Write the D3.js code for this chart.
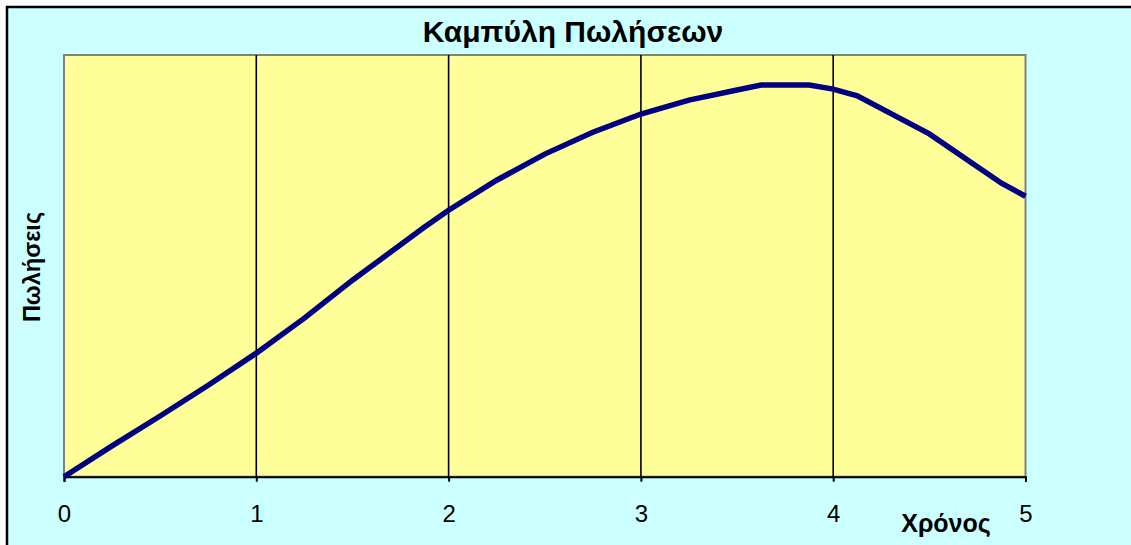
<!DOCTYPE html>
<html><head><meta charset="utf-8">
<script src="https://cdn.jsdelivr.net/npm/d3@7"></script>
<style>html,body{margin:0;padding:0;background:#fff;}svg{display:block;}</style>
</head><body>
<svg id="chart" width="1131" height="545"></svg>
<script>
const title = "Καμπύλη Πωλήσεων";
const xLabel = "Χρόνος";
const yLabel = "Πωλήσεις";
const xTicks = [0, 1, 2, 3, 4, 5];
const timeValues = [0, 0.25, 0.5, 0.75, 1, 1.25, 1.5, 1.875, 2, 2.25, 2.5, 2.75, 3, 3.25, 3.5, 3.625, 3.875, 4, 4.125, 4.5, 4.875, 5];
const salesValues = [0, 7.3, 14.4, 21.7, 29.3, 37.6, 46.6, 59.2, 63.2, 70.3, 76.5, 81.7, 86.0, 89.3, 91.7, 92.9, 92.9, 91.9, 90.3, 81.3, 69.6, 66.5];

const svg = d3.select("#chart");
const W = 1131, H = 545;
const plot = {left: 64, top: 55, right: 1025.5, bottom: 476.7};
const FONT = "Liberation Sans, Arial, sans-serif";

svg.append("rect").attr("x", 0).attr("y", 0).attr("width", W).attr("height", H).attr("fill", "#fff");
svg.append("rect").attr("x", 7).attr("y", 7).attr("width", W + 20).attr("height", H + 20)
  .attr("fill", "#CCFFFF").attr("stroke", "#000").attr("stroke-width", 2.5);

const x = d3.scaleLinear().domain([0, 5]).range([plot.left, plot.right]);
const y = d3.scaleLinear().domain([0, 100]).range([plot.bottom, plot.top]);

svg.append("rect").attr("x", plot.left).attr("y", plot.top)
  .attr("width", plot.right - plot.left).attr("height", plot.bottom - plot.top)
  .attr("fill", "#FFFF99").attr("stroke", "#808080").attr("stroke-width", 2);

// vertical gridlines
svg.append("g").selectAll("line").data(xTicks.filter(d => d > 0 && d < 5)).join("line")
  .attr("x1", d => x(d)).attr("x2", d => x(d))
  .attr("y1", plot.top).attr("y2", plot.bottom)
  .attr("stroke", "#000").attr("stroke-width", 1.6);

// x axis
const xAxis = d3.axisBottom(x).tickValues(xTicks).tickFormat(d3.format("d")).tickSize(5).tickPadding(23);
const gx = svg.append("g").attr("transform", `translate(0,${plot.bottom})`).call(xAxis);
gx.select(".domain").attr("stroke", "#000").attr("stroke-width", 2);
gx.selectAll(".tick line").attr("stroke", "#000").attr("stroke-width", 2);
gx.selectAll(".tick text").attr("font-family", FONT)
  .attr("font-size", 24).attr("fill", "#000");

// curve
const pts = timeValues.map((t, i) => [t, salesValues[i]]);
svg.append("path").datum(pts)
  .attr("d", d3.line().x(d => x(d[0])).y(d => y(d[1])))
  .attr("fill", "none").attr("stroke", "#000080").attr("stroke-width", 5.5)
  .attr("stroke-linejoin", "miter");

svg.append("text").attr("x", 573).attr("y", 42).attr("text-anchor", "middle")
  .attr("font-family", FONT).attr("font-weight", "bold")
  .attr("font-size", 30).text(title);

svg.append("text").attr("x", 946).attr("y", 532).attr("text-anchor", "middle")
  .attr("font-family", FONT).attr("font-weight", "bold")
  .attr("font-size", 25).text(xLabel);

svg.append("text").attr("transform", "translate(40,267) rotate(-90)").attr("text-anchor", "middle")
  .attr("font-family", FONT).attr("font-weight", "bold")
  .attr("font-size", 23.5).text(yLabel);
</script>
</body></html>
